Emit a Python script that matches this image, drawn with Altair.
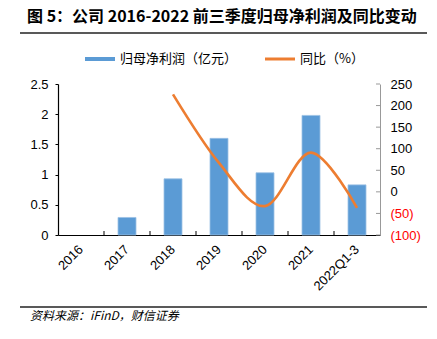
import altair as alt
import pandas as pd

categories = ["2016", "2017", "2018", "2019", "2020", "2021", "2022Q1-3"]
profit = [0.0, 0.29, 0.93, 1.60, 1.03, 1.98, 0.83]
yoy_cats = ["2018", "2019", "2020", "2021", "2022Q1-3"]
yoy = [226, 67, -33, 91, -37]
right_ticks = [-100, -50, 0, 50, 100, 150, 200, 250]
left_ticks = [0, 0.5, 1, 1.5, 2, 2.5]

title_text = "图 5：公司 2016-2022 前三季度归母净利润及同比变动"
source_text = "资料来源：iFinD，财信证券"
legend_bar = "归母净利润（亿元）"
legend_line = "同比（%）"

BLUE = "#5B9BD5"
ORANGE = "#ED7D31"
W, H = 322, 151
STEP = W / len(categories)

bar_df = pd.DataFrame({"cat": categories, "profit": profit})
line_df = pd.DataFrame({"cat": yoy_cats, "yoy": yoy})

xaxis = alt.Axis(
    title=None, labelAngle=-45, labelAlign="right", labelBaseline="middle",
    labelFont="Liberation Sans", labelFontSize=13, labelColor="#000",
    domainColor="#000", domainWidth=1.2, ticks=False, labelPadding=12,
)
xscale = alt.Scale(domain=categories, paddingInner=0, paddingOuter=0)


def xenc():
    return alt.X("cat:N", sort=categories, scale=xscale, axis=xaxis)


bars = alt.Chart(bar_df).mark_bar(size=18, color=BLUE, stroke="#9CC2E5", strokeWidth=0.8).encode(
    x=xenc(),
    y=alt.Y(
        "profit:Q",
        scale=alt.Scale(domain=[0, 2.5], nice=False),
        axis=alt.Axis(
            title=None, values=left_ticks, grid=False, format="~g",
            labelFont="Liberation Sans", labelFontSize=13, labelColor="#000",
            domainColor="#000", domainWidth=1.2, tickColor="#000", tickSize=3,
            labelPadding=7,
        ),
    ),
    strokeOpacity=alt.condition("datum.profit > 0", alt.value(1), alt.value(0)),
)

rscale = alt.Scale(domain=[-100, 250], nice=False)

line = alt.Chart(line_df).mark_line(
    color=ORANGE, strokeWidth=2.6, interpolate="cardinal"
).encode(
    x=xenc(),
    y=alt.Y(
        "yoy:Q",
        scale=rscale,
        axis=alt.Axis(
            title=None, orient="right", values=right_ticks,
            grid=False, labelFont="Liberation Sans", labelFontSize=13,
            labelExpr="datum.value < 0 ? '(' + abs(datum.value) + ')' : datum.label",
            labelColor=alt.ExprRef("datum.value < 0 ? '#FF0000' : '#000000'"),
            domainColor="#999", domainWidth=1, ticks=False, labelPadding=10,
        ),
    ),
)

rtick_df = pd.DataFrame({"v": right_ticks})
rticks = alt.Chart(rtick_df).mark_rule(color="#999", strokeWidth=1).encode(
    y=alt.Y("v:Q", scale=rscale, axis=None),
    x=alt.value(W - 4),
    x2=alt.value(W),
)

tick_df = pd.DataFrame({"cat": categories[1:]})
xticks = alt.Chart(tick_df).mark_rule(color="#000", strokeWidth=1, xOffset=-STEP / 2).encode(
    x=xenc(),
    y=alt.value(H - 4),
    y2=alt.value(H),
)


def txt(s, x, y, **kw):
    return alt.Chart(pd.DataFrame({"t": [s]})).mark_text(align="left", baseline="middle", **kw).encode(
        x=alt.value(x), y=alt.value(y), text="t:N"
    )


def hrule(x1, x2, y, color, width):
    return alt.Chart(pd.DataFrame({"a": [0]})).mark_rule(color=color, strokeWidth=width).encode(
        x=alt.value(x1), x2=alt.value(x2), y=alt.value(y)
    )


title = txt(title_text, -31, -67, font="Noto Sans CJK SC", fontSize=16, fontWeight="bold", color="#000")
title_rule = hrule(-38, 369, -51, "#222", 1.5)
foot_rule = hrule(-38, 369, 223, "#222", 1.5)
foot = txt(source_text, -28, 232, font="Noto Sans CJK SC", fontSize=12, fontStyle="italic", color="#000")
leg1_line = hrule(27, 57, -25, BLUE, 4)
leg1_text = txt(legend_bar, 62, -25, font="Noto Sans CJK SC", fontSize=13, color="#000")
leg2_line = hrule(207, 237, -25, ORANGE, 3)
leg2_text = txt(legend_line, 242, -25, font="Noto Sans CJK SC", fontSize=13, color="#000")

chart = alt.layer(
    bars, line, rticks, xticks, title, title_rule, foot_rule, foot,
    leg1_line, leg1_text, leg2_line, leg2_text,
).resolve_scale(y="independent").properties(
    width=W, height=H,
    autosize=alt.AutoSizeParams(type="none"),
    padding={"left": 58, "top": 84, "right": 57, "bottom": 104},
    background="white",
).configure_view(stroke=None)

chart.save("out.html", embed_options={"renderer": "svg", "actions": False})
